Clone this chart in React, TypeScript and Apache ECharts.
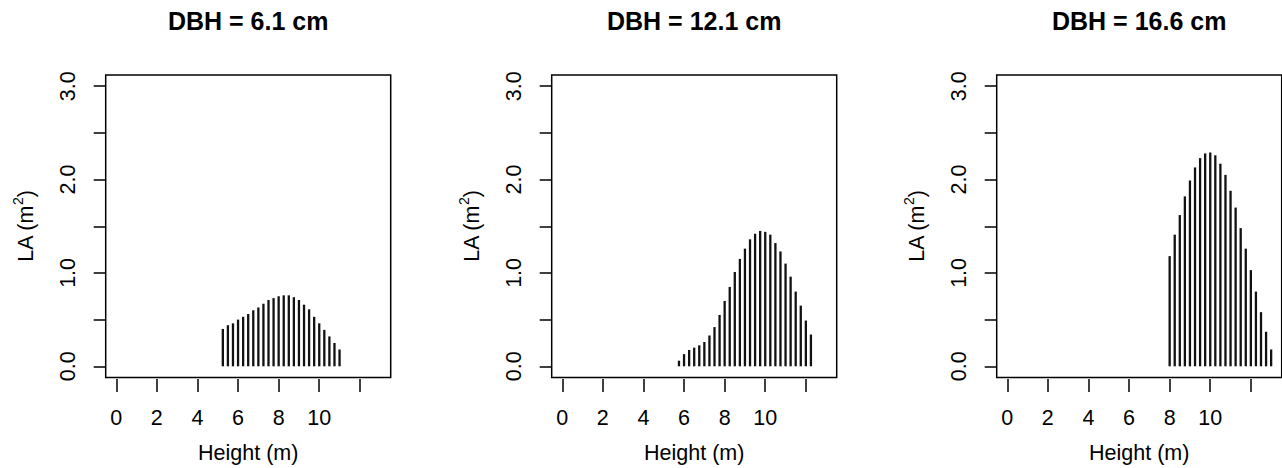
import React, { useEffect, useRef } from "react";
import * as echarts from "echarts";

const titles = ["DBH = 6.1 cm", "DBH = 12.1 cm", "DBH = 16.6 cm"];

const height1 = [5.25, 5.5, 5.75, 6, 6.25, 6.5, 6.75, 7, 7.25, 7.5, 7.75, 8, 8.25, 8.5, 8.75, 9, 9.25, 9.5, 9.75, 10, 10.25, 10.5, 10.75, 11];
const la1 = [0.40, 0.44, 0.46, 0.50, 0.53, 0.56, 0.60, 0.63, 0.67, 0.71, 0.73, 0.75, 0.76, 0.76, 0.74, 0.71, 0.66, 0.61, 0.53, 0.46, 0.39, 0.32, 0.25, 0.18];

const height2 = [5.75, 6, 6.25, 6.5, 6.75, 7, 7.25, 7.5, 7.75, 8, 8.25, 8.5, 8.75, 9, 9.25, 9.5, 9.75, 10, 10.25, 10.5, 10.75, 11, 11.25, 11.5, 11.75, 12, 12.25];
const la2 = [0.06, 0.13, 0.175, 0.20, 0.225, 0.26, 0.33, 0.42, 0.55, 0.70, 0.85, 1.01, 1.15, 1.26, 1.36, 1.42, 1.45, 1.44, 1.41, 1.32, 1.23, 1.10, 0.96, 0.80, 0.65, 0.49, 0.34];

const height3 = [8, 8.25, 8.5, 8.75, 9, 9.25, 9.5, 9.75, 10, 10.25, 10.5, 10.75, 11, 11.25, 11.5, 11.75, 12, 12.25, 12.5, 12.75, 13];
const la3 = [1.18, 1.41, 1.62, 1.82, 1.99, 2.13, 2.23, 2.28, 2.29, 2.26, 2.17, 2.05, 1.88, 1.70, 1.48, 1.26, 1.03, 0.80, 0.58, 0.37, 0.18];

const xTicks = [0, 2, 4, 6, 8, 10, 12];
const xLabels = [0, 2, 4, 6, 8, 10];
const yTicks = [0, 0.5, 1, 1.5, 2, 2.5, 3];
const yLabels = [0, 1, 2, 3];

const heights = [height1, height2, height3];
const las = [la1, la2, la3];

const FONT = "'Liberation Sans', Arial, sans-serif";
const FS = 21.5;

export default function App() {
  const ref = useRef<HTMLDivElement>(null);
  useEffect(() => {
    if (!ref.current) return;
    const chart = echarts.init(ref.current, null, { renderer: "svg" });
    const lefts = [105.7, 551.7, 996.7];
    const W = 285;
    const H = 302.5;
    const top = 75;
    const tickStyle = { color: "#000", width: 1.5 };
    const option: any = {
      animation: false,
      backgroundColor: "#fff",
      title: titles.map((t, i) => ({
        text: t,
        left: lefts[i] + W / 2,
        top: 8,
        textAlign: "center",
        padding: 0,
        textStyle: { fontSize: 25, fontWeight: "bold", fontFamily: FONT, color: "#000" },
      })),
      grid: lefts.map((l) => ({
        left: l,
        top,
        width: W,
        height: H,
        outerBoundsMode: "none",
        containLabel: false,
        show: true,
        borderColor: "#000",
        borderWidth: 1.5,
        backgroundColor: "transparent",
      })),
      xAxis: lefts.map((_, i) => ({
        type: "value",
        gridIndex: i,
        min: -0.52,
        max: 13.52,
        offset: 1.5,
        axisLine: { show: false, onZero: false },
        axisTick: { show: true, inside: false, customValues: xTicks, length: 13, lineStyle: tickStyle },
        axisLabel: { customValues: xLabels, margin: 28, fontSize: FS, color: "#000", fontFamily: FONT },
        splitLine: { show: false },
        name: "Height (m)",
        nameLocation: "middle",
        nameGap: 63,
        nameTextStyle: { fontSize: FS, color: "#000", fontFamily: FONT },
      })),
      yAxis: lefts.map((_, i) => ({
        type: "value",
        gridIndex: i,
        min: -0.12,
        max: 3.12,
        axisLine: { show: false, onZero: false },
        axisTick: { show: true, inside: false, customValues: yTicks, length: 12, lineStyle: tickStyle },
        axisLabel: {
          customValues: yLabels,
          rotate: 90,
          margin: 27,
          fontSize: FS,
          color: "#000",
          fontFamily: FONT,
          formatter: (v: number) => v.toFixed(1),
        },
        splitLine: { show: false },
        name: "{b|LA (m}{s|2}{b|)}",
        nameLocation: "middle",
        nameGap: 69,
        nameTextStyle: {
          fontSize: FS,
          color: "#000",
          fontFamily: FONT,
          rich: {
            b: { fontSize: FS, fontFamily: FONT, color: "#000", lineHeight: 26, verticalAlign: "bottom" },
            s: { fontSize: 14, fontFamily: FONT, color: "#000", lineHeight: 26, verticalAlign: "top" },
          },
        },
      })),
      series: heights.map((hs, i) => ({
        type: "bar",
        xAxisIndex: i,
        yAxisIndex: i,
        barWidth: 2.3,
        silent: true,
        itemStyle: { color: "#111" },
        data: hs.map((h, j) => [h, las[i][j]]),
      })),
    };
    chart.setOption(option);
    return () => chart.dispose();
  }, []);
  return (
    <div
      ref={ref}
      style={{ position: "absolute", left: 0, top: 0, width: 1282, height: 468 }}
    />
  );
}
